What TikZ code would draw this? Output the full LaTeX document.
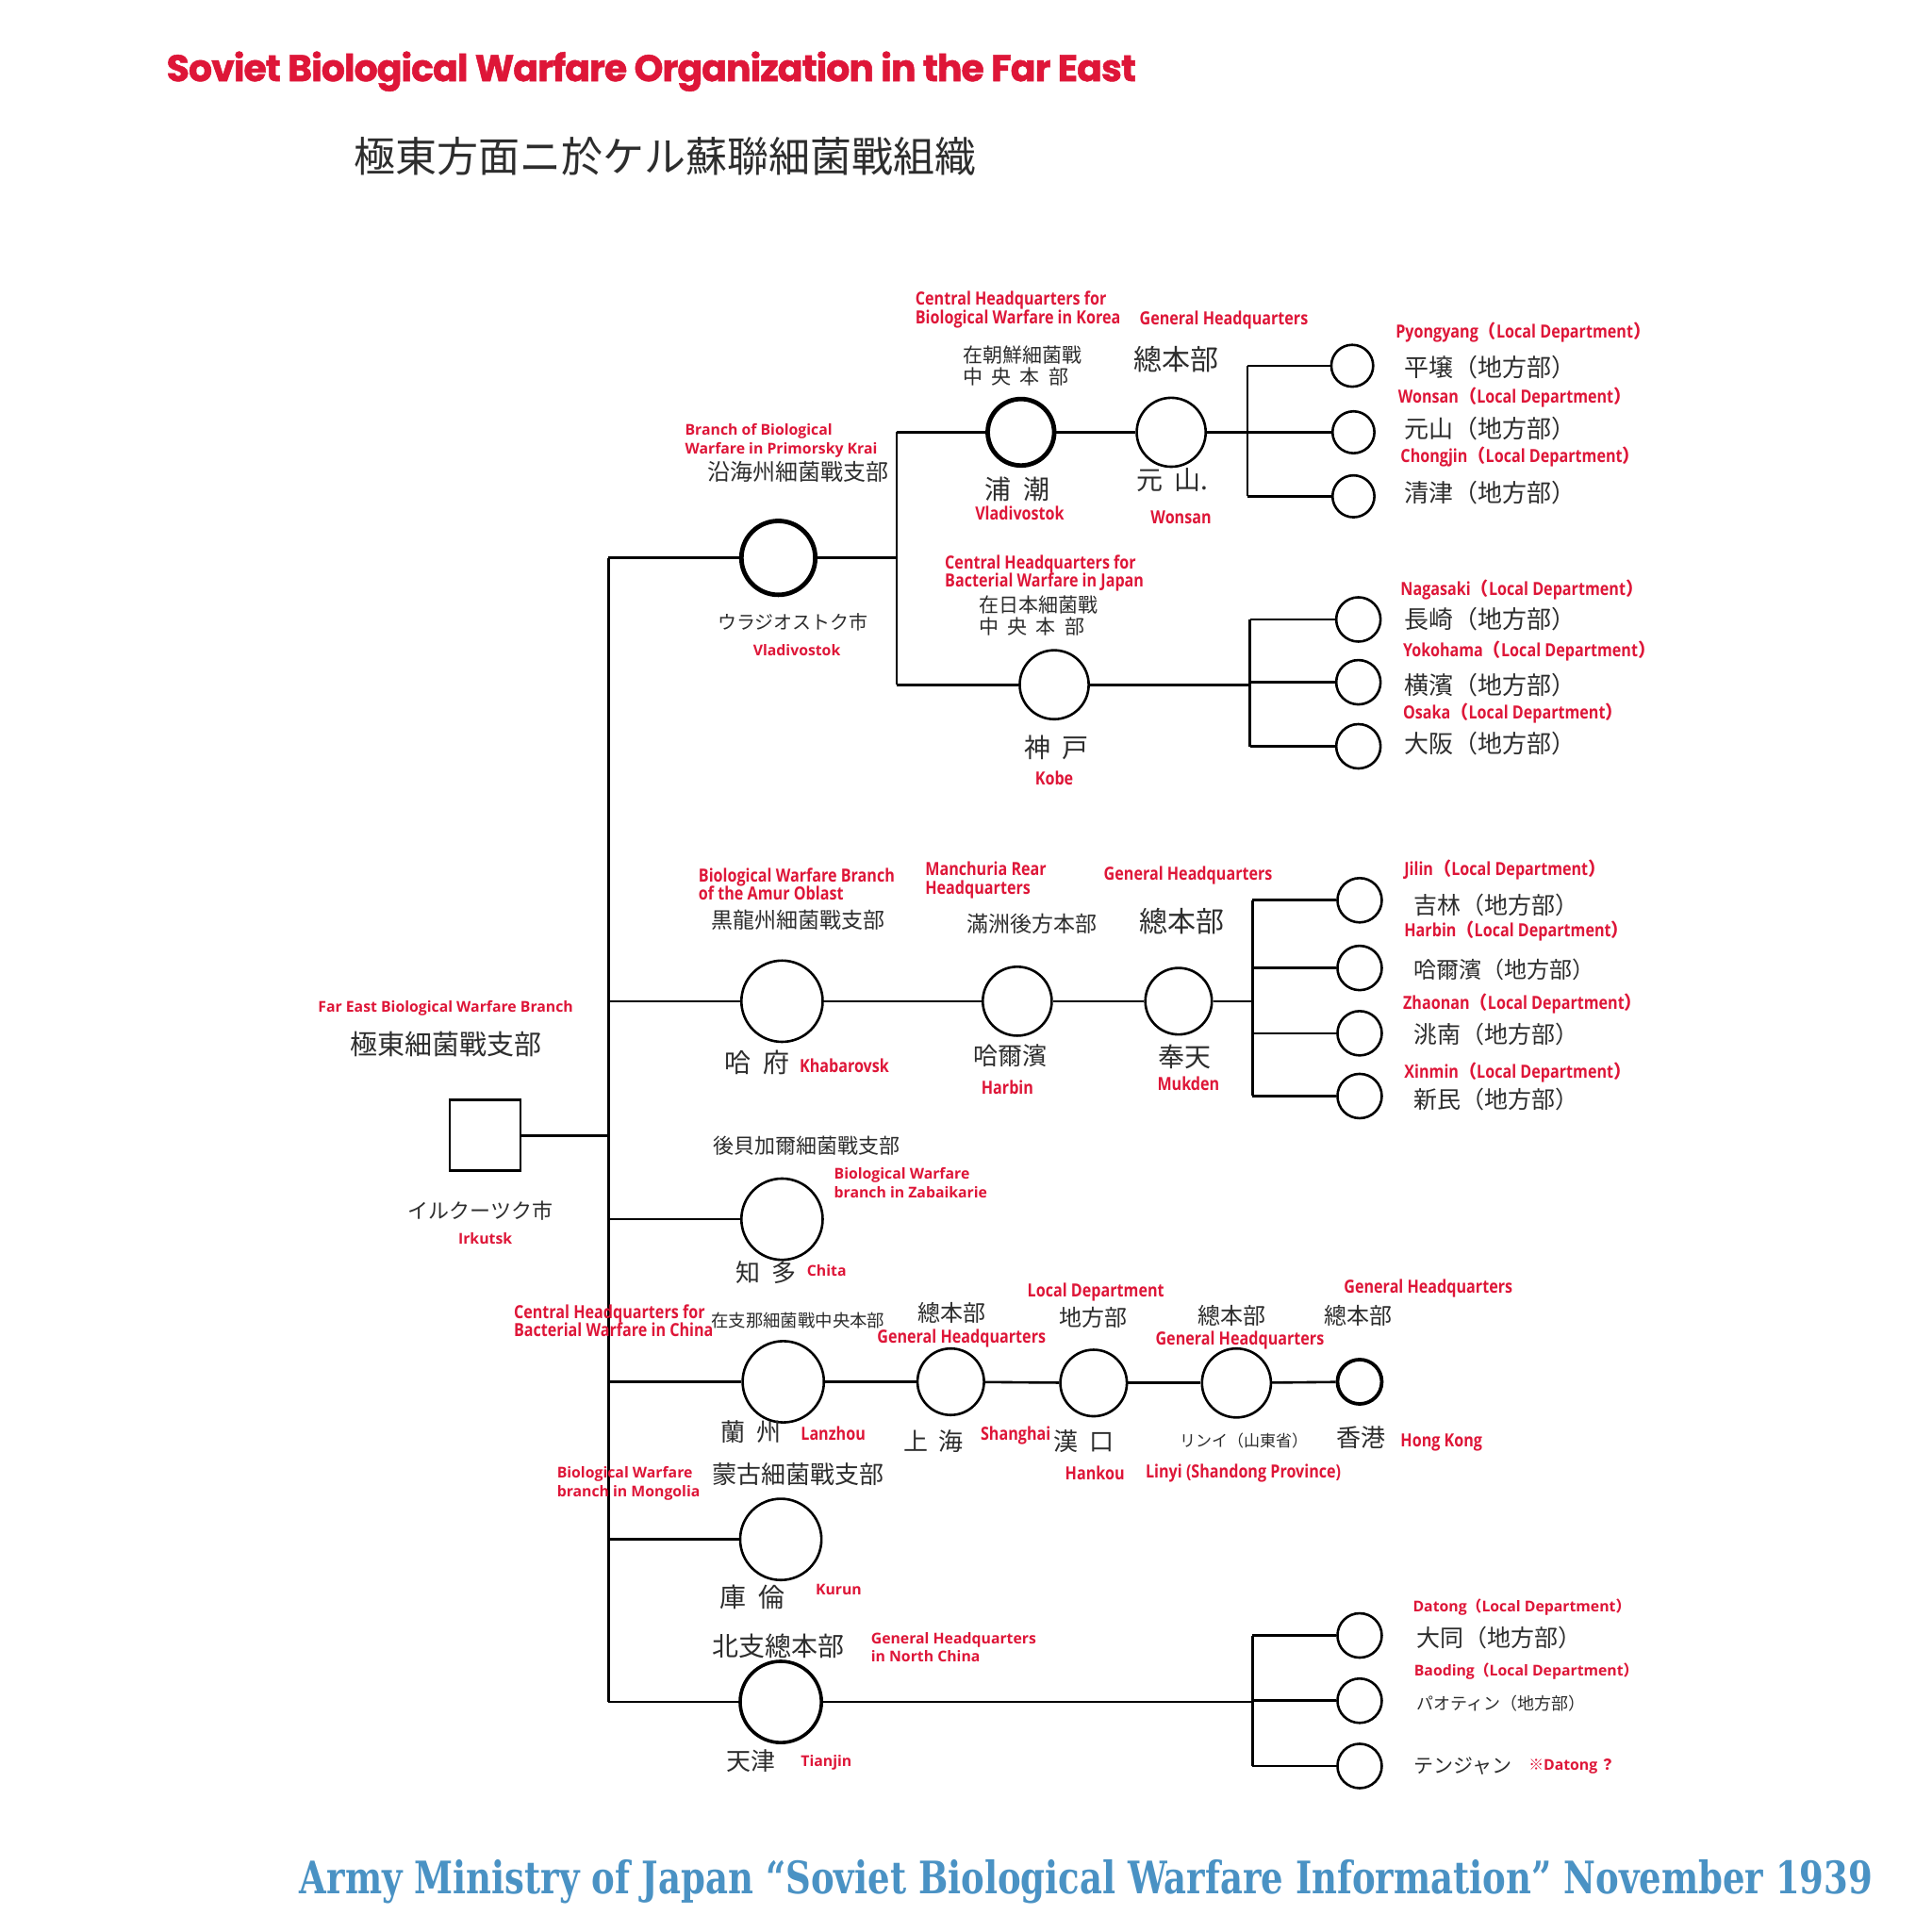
\documentclass[tikz,border=0pt]{standalone}
\usepackage{fontspec}
\newfontfamily\titlefont{Poppins}[LetterSpace=-2.5, BoldFeatures={FakeBold=1.3}]
\newfontfamily\labn{Open Sans}
\newfontfamily\labc{Open Sans}[FakeStretch=0.84]
\newfontfamily\cjkf{Noto Sans CJK JP}
\newfontfamily\footf{DejaVu Serif}[FakeStretch=0.78]
\definecolor{labred}{RGB}{222,22,56}
\definecolor{footblue}{RGB}{74,146,196}
\definecolor{jpgray}{RGB}{45,45,45}
\newcommand\locdep{{\cjkf （}Local Department{\cjkf ）}}
\newcommand\jsp{\hspace{0.45em}}
\tikzset{
  conn/.style={line width=1.3pt, black},
  circ/.style={circle, draw=black, line width=1.3pt, inner sep=0pt, minimum size=1.306pt*#1},
  circ/.default=18,
  heavy/.style={line width=2.4pt},
  lc/.style={font=\labc\bfseries\fontsize{9.6}{9.8}\selectfont, text=labred, inner sep=0pt, align=left, anchor=west},
  ln/.style={font=\labn\bfseries\fontsize{7.9}{9.8}\selectfont, text=labred, inner sep=0pt, align=left, anchor=west},
  jp/.style={font=\cjkf\fontsize{#1}{#1}\selectfont, text=jpgray, inner sep=0pt},
  jp/.default=12
}
\begin{document}
\begin{tikzpicture}[x=0.653pt, y=-0.653pt]
\fill[white] (0,0) rectangle (1568,1568);
\useasboundingbox (0,0) rectangle (1568,1568);

% ---------- titles ----------
\node[anchor=west, text=labred, font=\titlefont\bfseries, inner sep=0pt] (title) at (135,58)
  {\resizebox{514pt}{!}{Soviet Biological Warfare Organization in the Far East}};
\node[jp=22] (jtitle) at (540,127) {極東方面ニ於ケル蘇聯細菌戰組織};
\node[anchor=west, text=footblue, font=\footf\bfseries, inner sep=0pt] (foot) at (243,1528)
  {\resizebox{834pt}{!}{Army Ministry of Japan “Soviet Biological Warfare Information” November 1939}};

% ---------- shapes ----------
\node[draw=black, line width=1.3pt, minimum size=37.5pt, inner sep=0pt] (fe) at (394,922) {};
\node[circ=30, heavy] (prim) at (632,453) {};
\node[circ=27, heavy] (kc) at (829,351) {};
\node[circ=28] (kg) at (951,351) {};
\node[circ=17] (pyo) at (1098,297) {};
\node[circ=17] (won) at (1099,351) {};
\node[circ=17] (cho) at (1099,403) {};
\node[circ=28] (jc) at (856,556) {};
\node[circ=18] (nag) at (1103,503) {};
\node[circ=18] (yok) at (1103,554) {};
\node[circ=18] (osa) at (1103,606) {};
\node[circ=33] (amur) at (635,813) {};
\node[circ=28] (mr) at (826,813) {};
\node[circ=27] (mk) at (957,813) {};
\node[circ=18] (jil) at (1104,731) {};
\node[circ=18] (har) at (1104,786) {};
\node[circ=18] (zha) at (1104,839) {};
\node[circ=18] (xin) at (1104,890) {};
\node[circ=33] (chi) at (635,990) {};
\node[circ=33] (lz) at (636,1122) {};
\node[circ=27] (sh) at (772,1122) {};
\node[circ=27] (hk) at (888,1123) {};
\node[circ=28] (ly) at (1004,1123) {};
\node[circ=18, line width=1.9pt] (hkg) at (1104,1122) {};
\node[circ=33] (ku) at (634,1250) {};
\node[circ=33, line width=1.8pt] (tj) at (634,1382) {};
\node[circ=18] (dat) at (1104,1328) {};
\node[circ=18] (bao) at (1104,1381) {};
\node[circ=18] (ten) at (1104,1434) {};

% ---------- junction coordinates ----------
\coordinate (tA) at (494,453);
\coordinate (tZ) at (494,1382);
\coordinate (kA) at (728,351);
\coordinate (kZ) at (728,556);
\coordinate (kbA) at (1013,297);
\coordinate (kbZ) at (1013,403);
\coordinate (jbA) at (1015,503);
\coordinate (jbZ) at (1015,606);
\coordinate (abA) at (1017,731);
\coordinate (abZ) at (1017,890);
\coordinate (nbA) at (1017,1328);
\coordinate (nbZ) at (1017,1434);

% ---------- connectors ----------
\draw[conn] (tA) -- (tZ);
\draw[conn] (fe.east) -- (fe.east -| tA);
\draw[conn] (tA) -- (prim);
\draw[conn] (prim) -- (prim -| kA);
\draw[conn] (kA) -- (kZ);
\draw[conn] (kA) -- (kc);
\draw[conn] (kc) -- (kg);
\draw[conn] (kg) -- (kg -| kbA);
\draw[conn] (kbA) -- (kbZ);
\draw[conn] (kbA) -- (pyo);
\draw[conn] (won -| kbA) -- (won);
\draw[conn] (kbZ) -- (cho);
\draw[conn] (kZ) -- (jc);
\draw[conn] (jc) -- (jc -| jbA);
\draw[conn] (jbA) -- (jbZ);
\draw[conn] (jbA) -- (nag);
\draw[conn] (yok -| jbA) -- (yok);
\draw[conn] (jbZ) -- (osa);
\draw[conn] (amur -| tA) -- (amur);
\draw[conn] (amur) -- (mr);
\draw[conn] (mr) -- (mk);
\draw[conn] (mk) -- (mk -| abA);
\draw[conn] (abA) -- (abZ);
\draw[conn] (abA) -- (jil);
\draw[conn] (har -| abA) -- (har);
\draw[conn] (zha -| abA) -- (zha);
\draw[conn] (abZ) -- (xin);
\draw[conn] (chi -| tA) -- (chi);
\draw[conn] (lz -| tA) -- (lz);
\draw[conn] (lz) -- (sh);
\draw[conn] (sh) -- (hk);
\draw[conn] (hk) -- (ly);
\draw[conn] (ly) -- (hkg);
\draw[conn] (ku -| tA) -- (ku);
\draw[conn] (tZ) -- (tj);
\draw[conn] (tj) -- (tj -| nbA);
\draw[conn] (nbA) -- (nbZ);
\draw[conn] (nbA) -- (dat);
\draw[conn] (bao -| nbA) -- (bao);
\draw[conn] (nbZ) -- (ten);

% ---------- Korea ----------
\node[lc] (l1) at (743,251.5) {Central Headquarters for\\Biological Warfare in Korea};
\node[lc] (l2) at (925,260) {General Headquarters};
\node[lc] (l3) at (1133,270) {Pyongyang\locdep};
\node[lc] (l4) at (1135,323) {Wonsan\locdep};
\node[lc] (l5) at (1137,371) {Chongjin\locdep};
\node[lc, anchor=center] (l6) at (828,417) {Vladivostok};
\node[lc, anchor=center] (l7) at (959,420) {Wonsan};
\node[jp=10.5, align=left] (j2) at (830,297) {在朝鮮細菌戰\\[1pt]中\jsp 央\jsp 本\jsp 部};
\node[jp=15] (j3) at (955,292) {總本部};
\node[jp=14] (j4) at (826,397) {浦\jsp 潮};
\node[jp=14] (j5) at (952,390) {元\jsp 山.};
\node[jp=13, anchor=west] (j6) at (1140,298) {平壌（地方部）};
\node[jp=13, anchor=west] (j7) at (1140,348) {元山（地方部）};
\node[jp=13, anchor=west] (j8) at (1140,400) {清津（地方部）};

% ---------- Japan ----------
\node[lc] (l8) at (767,465.5) {Central Headquarters for\\Bacterial Warfare in Japan};
\node[lc, anchor=center] (l9) at (856,632) {Kobe};
\node[lc] (l10) at (1137,479) {Nagasaki\locdep};
\node[lc] (l11) at (1139,529) {Yokohama\locdep};
\node[lc] (l12) at (1139,579) {Osaka\locdep};
\node[jp=10.5, align=left] (j9) at (843,500) {在日本細菌戰\\[1pt]中\jsp 央\jsp 本\jsp 部};
\node[jp=14] (j10) at (858,607) {神\jsp 戸};
\node[jp=13, anchor=west] (j11) at (1140,503) {長崎（地方部）};
\node[jp=13, anchor=west] (j12) at (1140,556) {横濱（地方部）};
\node[jp=13, anchor=west] (j13) at (1140,604) {大阪（地方部）};

% ---------- Primorsky ----------
\node[ln] (l13) at (556,358) {Branch of Biological\\Warfare in Primorsky Krai};
\node[ln, anchor=center] (l14) at (647,528) {Vladivostok};
\node[jp=12] (j14) at (648,383) {沿海州細菌戰支部};
\node[jp=10] (j15) at (644,505) {ウラジオストク市};

% ---------- Far East ----------
\node[ln] (l15) at (258,819) {Far East Biological Warfare Branch};
\node[ln, anchor=center] (l16) at (394,1006) {Irkutsk};
\node[jp=14.5] (j16) at (362,848) {極東細菌戰支部};
\node[jp=11] (j17) at (390,983) {イルクーツク市};

% ---------- Amur ----------
\node[lc] (l17) at (567,718) {Biological Warfare Branch\\of the Amur Oblast};
\node[lc] (l18) at (751,714.5) {Manchuria Rear\\Headquarters};
\node[lc] (l19) at (896,711) {General Headquarters};
\node[lc] (l20) at (649,865) {Khabarovsk};
\node[lc, anchor=center] (l21) at (818,883) {Harbin};
\node[lc, anchor=center] (l22) at (965,880) {Mukden};
\node[lc] (l23) at (1140,706) {Jilin\locdep};
\node[lc] (l24) at (1140,756) {Harbin\locdep};
\node[lc] (l25) at (1139,815) {Zhaonan\locdep};
\node[lc] (l26) at (1140,871) {Xinmin\locdep};
\node[jp=11.5] (j18) at (648,747) {黒龍州細菌戰支部};
\node[jp=14] (j19) at (615,863) {哈\jsp 府};
\node[jp=11.5] (j20) at (838,750) {滿洲後方本部};
\node[jp=13] (j21) at (820,857) {哈爾濱};
\node[jp=15] (j22) at (960,748) {總本部};
\node[jp=14] (j23) at (962,858) {奉天};
\node[jp=12.5, anchor=west] (j24) at (1148,735) {吉林（地方部）};
\node[jp=12, anchor=west] (j25) at (1148,787) {哈爾濱（地方部）};
\node[jp=12.5, anchor=west] (j26) at (1148,840) {洮南（地方部）};
\node[jp=12.5, anchor=west] (j27) at (1148,893) {新民（地方部）};

% ---------- Zabaikal ----------
\node[ln] (l27) at (677,960.5) {Biological Warfare\\branch in Zabaikarie};
\node[ln] (l28) at (655,1032) {Chita};
\node[jp=11] (j28) at (655,930) {後貝加爾細菌戰支部};
\node[jp=13] (j29) at (622,1033) {知\jsp 多};

% ---------- China ----------
\node[lc] (l29) at (417,1072.5) {Central Headquarters for\\Bacterial Warfare in China};
\node[lc] (l30) at (712,1087) {General Headquarters};
\node[lc] (l31) at (834,1049) {Local Department};
\node[lc] (l32) at (938,1088) {General Headquarters};
\node[lc] (l33) at (1091,1046) {General Headquarters};
\node[lc] (l34) at (650,1164) {Lanzhou};
\node[lc] (l35) at (796,1166) {Shanghai};
\node[lc, anchor=center] (l36) at (889,1196) {Hankou};
\node[lc] (l37) at (930,1196) {Linyi (Shandong Province)};
\node[lc] (l38) at (1137,1171) {Hong Kong};
\node[jp=9.2] (j30) at (648,1072) {在支那細菌戰中央本部};
\node[jp=13] (j31) at (610,1163) {蘭\jsp 州};
\node[jp=12] (j32) at (773,1066) {總本部};
\node[jp=13] (j33) at (758,1170) {上\jsp 海};
\node[jp=12] (j34) at (888,1070) {地方部};
\node[jp=13] (j35) at (880,1170) {漢\jsp 口};
\node[jp=12] (j36) at (1000,1068) {總本部};
\node[jp=8.5] (j37) at (1010,1170) {リンイ（山東省）};
\node[jp=12] (j38) at (1103,1068) {總本部};
\node[jp=13] (j39) at (1105,1167) {香港};

% ---------- Mongolia ----------
\node[ln] (l39) at (452,1204.5) {Biological Warfare\\branch in Mongolia};
\node[ln] (l40) at (662,1291) {Kurun};
\node[jp=13] (j40) at (648,1197) {蒙古細菌戰支部};
\node[jp=14] (j41) at (611,1297) {庫\jsp 倫};

% ---------- North China ----------
\node[ln] (l41) at (707,1337.5) {General Headquarters\\in North China};
\node[ln] (l42) at (650,1431) {Tianjin};
\node[ln] (l43) at (1147,1305) {Datong\locdep};
\node[ln] (l44) at (1148,1357) {Baoding\locdep};
\node[ln] (l45) at (1241,1434) {{\cjkf ※}Datong\,{\cjkf ？}};
\node[jp=14] (j42) at (632,1337) {北支總本部};
\node[jp=13] (j43) at (610,1430) {天津};
\node[jp=12.5, anchor=west] (j44) at (1150,1330) {大同（地方部）};
\node[jp=9, anchor=west] (j45) at (1150,1383) {パオティン（地方部）};
\node[jp=10.5, anchor=west] (j46) at (1148,1434) {テンジャン};
\end{tikzpicture}
\end{document}
